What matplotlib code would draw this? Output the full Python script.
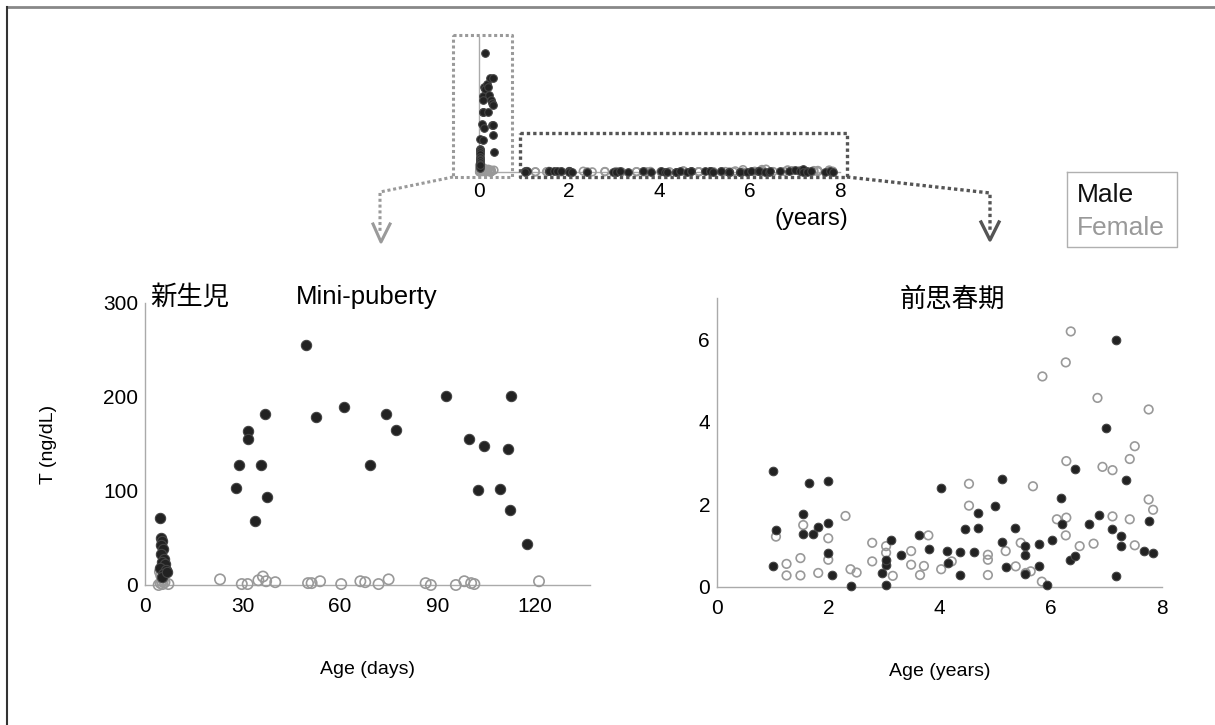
import matplotlib.pyplot as plt

plt.rcParams['font.family'] = ['Liberation Sans', 'Noto Sans CJK JP']

# newborn + mini-puberty, age in days, T in ng/dL
male_day = [4.5, 5.0, 5.2, 4.8, 5.5, 5.0, 5.8, 5.3, 6.2, 4.7, 6.5, 5.6, 5.1, 6.8,
            28.0, 29.0, 31.6, 31.7, 34.0, 35.8, 36.9, 37.6, 49.5, 52.6, 61.3, 69.3,
            74.1, 77.2, 92.7, 99.8, 102.6, 104.5, 109.3, 111.7, 112.6, 112.5, 117.6]
male_ng = [71, 50, 47, 43, 38, 33, 28, 25, 22, 18, 16, 12, 8, 14,
           103, 128, 164, 155, 68, 128, 182, 94, 255, 179, 189, 128,
           182, 165, 201, 155, 101, 148, 102, 145, 201, 80, 44]
female_day = [4.2, 4.8, 5.2, 5.6, 6.0, 5.0, 4.6, 7.2, 5.4,
              23.1, 29.8, 31.6, 34.9, 36.3, 37.3, 40.1, 50.2, 51.3, 53.9, 60.4,
              66.3, 67.8, 71.9, 75.0, 86.4, 88.0, 95.7, 98.3, 100.4, 101.4, 121.3]
female_ng = [0, 2, 4, 6, 3, 10, 14, 1, 1,
             6, 1, 1, 5, 9, 4, 3, 2, 2, 4, 1,
             4, 3, 1, 6, 2, 0, 0, 4, 2, 1, 4]

# pre-puberty, age in years, T in ng/dL
male_yr = [1.01, 1.06, 1.01, 1.55, 1.55, 1.66, 1.73, 1.82, 1.99, 2.00, 2.00, 2.06, 2.40,
           2.97, 3.04, 3.04, 3.04, 3.13, 3.31, 3.63, 3.81, 4.03, 4.13, 4.16, 4.37, 4.37,
           4.46, 4.62, 4.69, 4.69, 5.00, 5.12, 5.12, 5.19, 5.36, 5.54, 5.54, 5.54, 5.78,
           5.78, 5.93, 6.02, 6.18, 6.20, 6.34, 6.43, 6.44, 6.68, 6.86, 7.00, 7.11, 7.17,
           7.17, 7.27, 7.27, 7.36, 7.67, 7.77, 7.84]
male_t = [2.81, 1.38, 0.52, 1.76, 1.29, 2.52, 1.29, 1.46, 1.54, 2.56, 0.83, 0.29, 0.03,
          0.33, 0.05, 0.54, 0.66, 1.15, 0.78, 1.27, 0.92, 2.39, 0.87, 0.58, 0.84, 0.29,
          1.41, 0.84, 1.44, 1.80, 1.95, 2.62, 1.09, 0.48, 1.44, 0.99, 0.78, 0.32, 1.03,
          0.52, 0.05, 1.13, 2.16, 1.52, 0.66, 0.74, 2.87, 1.52, 1.74, 3.85, 1.41, 5.99,
          0.27, 1.23, 0.99, 2.60, 0.87, 1.60, 0.83]
female_yr = [1.06, 1.25, 1.25, 1.50, 1.50, 1.55, 1.82, 2.00, 2.00, 2.31, 2.40, 2.51,
             2.79, 2.79, 3.04, 3.04, 3.16, 3.49, 3.49, 3.65, 3.72, 3.80, 4.03, 4.22,
             4.53, 4.53, 4.87, 4.87, 4.87, 5.19, 5.37, 5.46, 5.55, 5.64, 5.68, 5.84,
             5.85, 6.11, 6.27, 6.27, 6.28, 6.28, 6.36, 6.52, 6.77, 6.84, 6.93, 7.11,
             7.11, 7.42, 7.42, 7.51, 7.51, 7.76, 7.76, 7.84]
female_t = [1.22, 0.56, 0.28, 0.70, 0.28, 1.50, 0.34, 1.18, 0.66, 1.72, 0.43, 0.35,
            1.07, 0.62, 0.99, 0.83, 0.27, 0.87, 0.54, 0.29, 0.51, 1.25, 0.43, 0.62,
            2.50, 1.97, 0.78, 0.66, 0.29, 0.87, 0.50, 1.07, 0.34, 0.38, 2.44, 0.13,
            5.10, 1.64, 5.44, 1.25, 3.05, 1.68, 6.19, 0.99, 1.05, 4.58, 2.91, 2.83,
            1.71, 1.64, 3.10, 3.41, 1.01, 4.30, 2.12, 1.87]

MALE = '#222222'
MALE_EDGE = '#444444'
FEMALE = '#999999'
AXC = '#aaaaaa'

W, H = 1215, 725
fig = plt.figure(figsize=(W / 100, H / 100), dpi=100)


def box(x0, y0, x1, y1):
    # pixel box (top-left origin) -> figure fraction rect
    return [x0 / W, 1 - y1 / H, (x1 - x0) / W, (y1 - y0) / H]


def style(ax, xpad, ypad):
    for s in ['top', 'right']:
        ax.spines[s].set_visible(False)
    for s in ['left', 'bottom']:
        ax.spines[s].set_color(AXC)
        ax.spines[s].set_linewidth(1)
    ax.tick_params(length=0, labelsize=15)
    ax.tick_params(axis='x', pad=xpad)
    ax.tick_params(axis='y', pad=ypad)
    ax.patch.set_alpha(0)


def dots(ax, mx, my, fx, fy, s):
    ax.scatter(fx, fy, s=s, facecolors='none', edgecolors=FEMALE, linewidths=1.2, clip_on=False, zorder=3)
    ax.scatter(mx, my, s=s, c=MALE, edgecolors=MALE_EDGE, linewidths=0.8, clip_on=False, zorder=4)


# small overview plot
ax0 = fig.add_axes(box(479, 37, 840, 172))
style(ax0, 7, 5)
years_m = [d / 365.25 for d in male_day] + male_yr
years_f = [d / 365.25 for d in female_day] + female_yr
dots(ax0, years_m, male_ng + male_t, years_f, female_ng + female_t, 30)
ax0.set_xlim(0, 8)
ax0.set_ylim(0, 290)
ax0.set_xticks([0, 2, 4, 6, 8])
ax0.set_yticks([])

# newborn / mini-puberty
ax1 = fig.add_axes(box(145, 303, 590, 585))
style(ax1, 9, 5)
dots(ax1, male_day, male_ng, female_day, female_ng, 55)
ax1.set_xlim(0, 137)
ax1.set_ylim(0, 300)
ax1.set_xticks([0, 30, 60, 90, 120])
ax1.set_yticks([0, 100, 200, 300])
ax1.set_ylabel('T (ng/dL)', fontsize=14, labelpad=33)
ax1.set_xlabel('Age (days)', fontsize=14, labelpad=32)
ax1.text(0.012, 1.02, '新生児', transform=ax1.transAxes, fontsize=19, va='center')
ax1.text(0.34, 1.02, 'Mini-puberty', transform=ax1.transAxes, fontsize=18.5, va='center')

# pre-puberty
ax2 = fig.add_axes(box(717, 298, 1162, 587))
style(ax2, 9, 5)
dots(ax2, male_yr, male_t, female_yr, female_t, 38)
ax2.set_xlim(0, 8)
ax2.set_ylim(0, 7)
ax2.set_xticks([0, 2, 4, 6, 8])
ax2.set_yticks([0, 2, 4, 6])
ax2.set_xlabel('Age (years)', fontsize=14, labelpad=32)
ax2.text(0.41, 0.995, '前思春期', transform=ax2.transAxes, fontsize=19, va='center')

# overlay for zoom boxes, connectors, legend and frame (pixel coords)
ov = fig.add_axes([0, 0, 1, 1])
ov.set_xlim(0, W)
ov.set_ylim(H, 0)
ov.axis('off')

dotted = (0, (1, 0.9))
ov.plot([453, 512, 512, 453, 453], [35, 35, 177, 177, 35], color='#9a9a9a', lw=2.2, ls=dotted)
ov.plot([520, 847, 847, 520, 520], [133, 133, 177, 177, 133], color='#555555', lw=2.4, ls=dotted)
ov.plot([453, 380, 380], [177, 192, 232], color='#9a9a9a', lw=2.2, ls=dotted)
ov.plot([847, 990, 990], [177, 193, 232], color='#555555', lw=2.4, ls=dotted)
ov.plot([373, 381, 390], [224, 242, 224], color='#9a9a9a', lw=2.2)
ov.plot([981, 990, 999], [222, 240, 222], color='#555555', lw=2.4)
ov.text(811, 219, '(years)', fontsize=17, ha='center', va='center')

# legend box
ov.plot([1067, 1177, 1177, 1067, 1067], [172, 172, 247, 247, 172], color='#b0b0b0', lw=1)
ov.text(1077, 195, 'Male', fontsize=19, color='#111111', va='center')
ov.text(1077, 228, 'Female', fontsize=19, color='#999999', va='center')

# figure frame (top and left)
ov.plot([7, W], [7, 7], color='#888888', lw=2)
ov.plot([7, 7], [7, H], color='#333333', lw=1.5)

fig.savefig('out.png', dpi=100)
